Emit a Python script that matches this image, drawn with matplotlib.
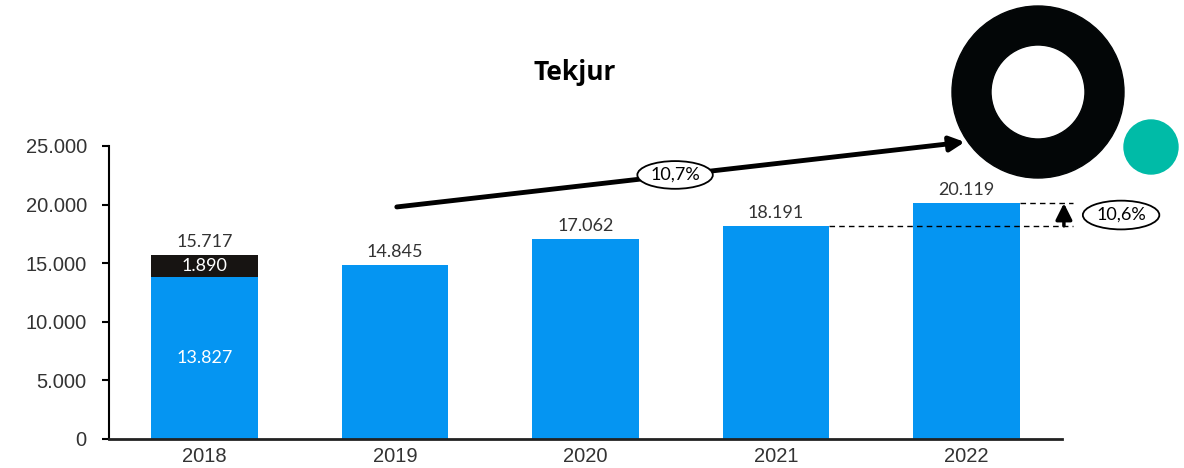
import matplotlib
matplotlib.use("Agg")
import matplotlib.pyplot as plt
from matplotlib.patches import Circle, Wedge

years = ["2018", "2019", "2020", "2021", "2022"]
base_values = [13827, 14845, 17062, 18191, 20119]
extra_values = [1890, 0, 0, 0, 0]
totals = [15717, 14845, 17062, 18191, 20119]
cagr_label = "10,7%"
yoy_label = "10,6%"
title = "Tekjur"
yticks = [0, 5000, 10000, 15000, 20000, 25000]
ytick_labels = ["0", "5.000", "10.000", "15.000", "20.000", "25.000"]

BLUE = "#0595F2"
DARK = "#171412"
TEAL = "#00BBA7"

def fmt(v):
    return f"{v:,}".replace(",", ".")

W, H = 1184, 468
fig = plt.figure(figsize=(W / 100, H / 100), dpi=100)
ax = fig.add_axes([109 / W, 1 - 439 / H, (1062 - 109) / W, (439 - 146) / H])

labfont = dict(family=["Lato", "DejaVu Sans"], weight="normal")
tickfont = ["Liberation Sans", "DejaVu Sans"]

x = list(range(len(years)))
bw = 0.56
ax.bar(x, base_values, width=bw, color=BLUE, zorder=2)
ax.bar(x, extra_values, width=bw, bottom=base_values, color=DARK, zorder=2)

ax.set_xlim(-0.5, 4.5)
ax.set_ylim(0, 25000)
ax.set_yticks(yticks)
ax.set_yticklabels(ytick_labels, family=tickfont, fontsize=14.5, color="#333333")
ax.set_xticks(x)
ax.set_xticklabels(years, family=tickfont, fontsize=14.5, color="#333333")
ax.tick_params(axis="x", length=0, pad=6)
ax.tick_params(axis="y", length=5, width=1.5, pad=11)
for s in ["top", "right"]:
    ax.spines[s].set_visible(False)
ax.spines["left"].set_linewidth(1.5)
ax.spines["bottom"].set_linewidth(2)
ax.spines["bottom"].set_color("#222222")

# total labels
for xi, t in zip(x, totals):
    ax.text(xi, t + 450, fmt(t), ha="center", va="bottom", fontsize=13, color="#333333", **labfont)
# inner labels for 2018
ax.text(0, base_values[0] / 2, fmt(base_values[0]), ha="center", va="center", fontsize=13, color="white", **labfont)
ax.text(0, base_values[0] + extra_values[0] / 2, fmt(extra_values[0]), ha="center", va="center", fontsize=13, color="white", **labfont)

# trend arrow
ax.annotate("", xy=(3.99, 25340), xytext=(1.01, 19800),
            arrowprops=dict(arrowstyle="-|>", lw=3.5, color="black", mutation_scale=22, shrinkA=0, shrinkB=0),
            annotation_clip=False, zorder=5)
ax.text(2.47, 22530, cagr_label, ha="center", va="center", fontsize=13, color="black", zorder=6,
        bbox=dict(boxstyle="ellipse,pad=0.1", fc="white", ec="black", lw=1.3), **labfont)

# dashed lines for yoy
ax.plot([3 + bw / 2, 4.557], [totals[3], totals[3]], ls=(0, (4, 3)), color="black", lw=1, clip_on=False, zorder=3)
ax.plot([4 + bw / 2, 4.557], [totals[4], totals[4]], ls=(0, (4, 3)), color="black", lw=1, clip_on=False, zorder=3)
ax.annotate("", xy=(4.51, totals[4]), xytext=(4.51, totals[3]),
            arrowprops=dict(arrowstyle="-|>,head_length=0.7,head_width=0.35", lw=2.5, color="black",
                            mutation_scale=14, shrinkA=0, shrinkB=0),
            annotation_clip=False)
ax.text(4.81, 19110, yoy_label, ha="center", va="center", fontsize=13, color="black", clip_on=False,
        bbox=dict(boxstyle="ellipse,pad=0.12", fc="white", ec="black", lw=1.3), **labfont)

# title
fig.text(575 / W, 1 - 72 / H, title, ha="center", va="center", fontsize=19, fontweight="bold",
         family=["Open Sans", "DejaVu Sans"])

# logo overlay
ov = fig.add_axes([0, 0, 1, 1], zorder=10)
ov.set_xlim(0, W)
ov.set_ylim(H, 0)
ov.axis("off")
ov.add_patch(Wedge((1038, 92), 86, 0, 360, width=39, color="#030607"))
ov.add_patch(Circle((1151, 147), 27, color=TEAL))

fig.savefig("out.png", dpi=100)
